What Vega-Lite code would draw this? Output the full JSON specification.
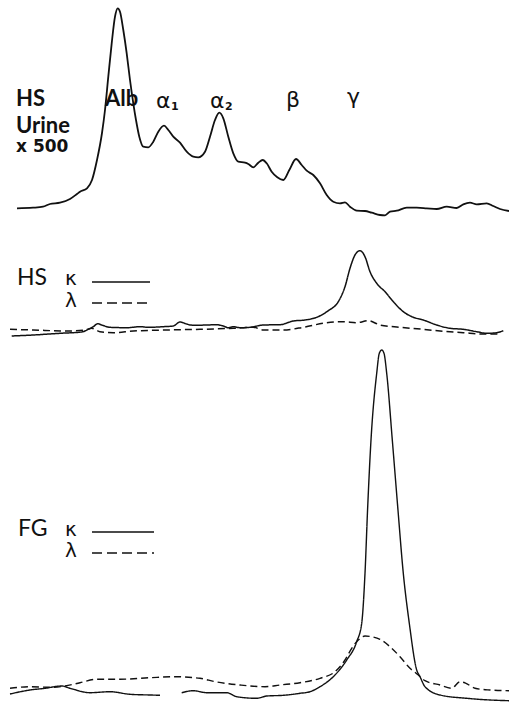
{
  "$schema": "https://vega.github.io/schema/vega-lite/v6.json",
  "padding": 0,
  "spacing": 0,
  "bounds": "flush",
  "background": "white",
  "config": {"view": {"stroke": null}, "text": {"align": "left", "baseline": "alphabetic", "font": "Lato", "fontWeight": "bold", "color": "#111"}},
  "datasets": {
    "traces": [
      {"p":"top","s":"urine","g":1,"x":17,"y":11.7},{"p":"top","s":"urine","g":1,"x":33,"y":12.3},{"p":"top","s":"urine","g":1,"x":43,"y":13.3},{"p":"top","s":"urine","g":1,"x":50,"y":16},{"p":"top","s":"urine","g":1,"x":60,"y":17.3},{"p":"top","s":"urine","g":1,"x":70,"y":21},{"p":"top","s":"urine","g":1,"x":77,"y":26},{"p":"top","s":"urine","g":1,"x":80,"y":28.3},{"p":"top","s":"urine","g":1,"x":87,"y":31.7},{"p":"top","s":"urine","g":1,"x":92,"y":40},{"p":"top","s":"urine","g":1,"x":97,"y":60},{"p":"top","s":"urine","g":1,"x":102,"y":87},{"p":"top","s":"urine","g":1,"x":105,"y":110},{"p":"top","s":"urine","g":1,"x":108.3,"y":143.3},{"p":"top","s":"urine","g":1,"x":111.7,"y":176.7},{"p":"top","s":"urine","g":1,"x":115,"y":203.3},{"p":"top","s":"urine","g":1,"x":117.7,"y":211.7},{"p":"top","s":"urine","g":1,"x":120,"y":208.3},{"p":"top","s":"urine","g":1,"x":123.3,"y":190},{"p":"top","s":"urine","g":1,"x":126.7,"y":166.7},{"p":"top","s":"urine","g":1,"x":130,"y":140},{"p":"top","s":"urine","g":1,"x":133.3,"y":116.7},{"p":"top","s":"urine","g":1,"x":136,"y":100},{"p":"top","s":"urine","g":1,"x":139.3,"y":83.3},{"p":"top","s":"urine","g":1,"x":143.3,"y":73.3},{"p":"top","s":"urine","g":1,"x":148.3,"y":72.7},{"p":"top","s":"urine","g":1,"x":153.3,"y":78.3},{"p":"top","s":"urine","g":1,"x":158.3,"y":88.3},{"p":"top","s":"urine","g":1,"x":164,"y":94.3},{"p":"top","s":"urine","g":1,"x":168.3,"y":90},{"p":"top","s":"urine","g":1,"x":173.3,"y":83.3},{"p":"top","s":"urine","g":1,"x":180,"y":77.3},{"p":"top","s":"urine","g":1,"x":186.7,"y":68.3},{"p":"top","s":"urine","g":1,"x":193.3,"y":63.3},{"p":"top","s":"urine","g":1,"x":198.3,"y":62.7},{"p":"top","s":"urine","g":1,"x":205,"y":68.3},{"p":"top","s":"urine","g":1,"x":210,"y":83.3},{"p":"top","s":"urine","g":1,"x":215,"y":100},{"p":"top","s":"urine","g":1,"x":219.3,"y":107.3},{"p":"top","s":"urine","g":1,"x":223.3,"y":101.7},{"p":"top","s":"urine","g":1,"x":228.3,"y":83.3},{"p":"top","s":"urine","g":1,"x":233.3,"y":66.7},{"p":"top","s":"urine","g":1,"x":238.3,"y":58.3},{"p":"top","s":"urine","g":1,"x":245,"y":57.3},{"p":"top","s":"urine","g":1,"x":248.3,"y":56},{"p":"top","s":"urine","g":1,"x":253.3,"y":52.7},{"p":"top","s":"urine","g":1,"x":258.3,"y":57.3},{"p":"top","s":"urine","g":1,"x":262.7,"y":60},{"p":"top","s":"urine","g":1,"x":266.7,"y":56.7},{"p":"top","s":"urine","g":1,"x":271.7,"y":48.3},{"p":"top","s":"urine","g":1,"x":277.3,"y":42.7},{"p":"top","s":"urine","g":1,"x":283.3,"y":40},{"p":"top","s":"urine","g":1,"x":289.3,"y":50},{"p":"top","s":"urine","g":1,"x":296,"y":61},{"p":"top","s":"urine","g":1,"x":301.7,"y":55},{"p":"top","s":"urine","g":1,"x":306.7,"y":49.3},{"p":"top","s":"urine","g":1,"x":313.3,"y":45},{"p":"top","s":"urine","g":1,"x":320,"y":36.7},{"p":"top","s":"urine","g":1,"x":326.7,"y":25},{"p":"top","s":"urine","g":1,"x":333.3,"y":18.3},{"p":"top","s":"urine","g":1,"x":340,"y":16.7},{"p":"top","s":"urine","g":1,"x":345,"y":17.7},{"p":"top","s":"urine","g":1,"x":350,"y":13.3},{"p":"top","s":"urine","g":1,"x":356.7,"y":9.3},{"p":"top","s":"urine","g":1,"x":365,"y":9},{"p":"top","s":"urine","g":1,"x":371.7,"y":7.3},{"p":"top","s":"urine","g":1,"x":380,"y":5},{"p":"top","s":"urine","g":1,"x":385,"y":4.7},{"p":"top","s":"urine","g":1,"x":390,"y":8.3},{"p":"top","s":"urine","g":1,"x":396.7,"y":9.3},{"p":"top","s":"urine","g":1,"x":406.7,"y":12.3},{"p":"top","s":"urine","g":1,"x":416.7,"y":12.3},{"p":"top","s":"urine","g":1,"x":426.7,"y":11.7},{"p":"top","s":"urine","g":1,"x":436.7,"y":11},{"p":"top","s":"urine","g":1,"x":446.7,"y":13.3},{"p":"top","s":"urine","g":1,"x":456.7,"y":12},{"p":"top","s":"urine","g":1,"x":463.3,"y":15.7},{"p":"top","s":"urine","g":1,"x":470,"y":17.3},{"p":"top","s":"urine","g":1,"x":476.7,"y":15.7},{"p":"top","s":"urine","g":1,"x":486.7,"y":16.7},{"p":"top","s":"urine","g":1,"x":493.3,"y":14},{"p":"top","s":"urine","g":1,"x":500,"y":11},{"p":"top","s":"urine","g":1,"x":509,"y":9},

      {"p":"mid","s":"kappa","g":1,"x":11.7,"y":4},{"p":"mid","s":"kappa","g":1,"x":33.3,"y":5},{"p":"mid","s":"kappa","g":1,"x":60,"y":6.7},{"p":"mid","s":"kappa","g":1,"x":81.7,"y":8},{"p":"mid","s":"kappa","g":1,"x":88.3,"y":10.7},{"p":"mid","s":"kappa","g":1,"x":93.3,"y":13.3},{"p":"mid","s":"kappa","g":1,"x":97.7,"y":16.3},{"p":"mid","s":"kappa","g":1,"x":101.7,"y":15},{"p":"mid","s":"kappa","g":1,"x":110,"y":12.7},{"p":"mid","s":"kappa","g":1,"x":126.7,"y":12.3},{"p":"mid","s":"kappa","g":1,"x":140,"y":13.3},{"p":"mid","s":"kappa","g":1,"x":148.3,"y":12.7},{"p":"mid","s":"kappa","g":1,"x":163.3,"y":13.3},{"p":"mid","s":"kappa","g":1,"x":173.3,"y":14},{"p":"mid","s":"kappa","g":1,"x":180,"y":18},{"p":"mid","s":"kappa","g":1,"x":186.7,"y":16},{"p":"mid","s":"kappa","g":1,"x":193.3,"y":14.7},{"p":"mid","s":"kappa","g":1,"x":206.7,"y":15},{"p":"mid","s":"kappa","g":1,"x":216.7,"y":15.3},{"p":"mid","s":"kappa","g":1,"x":223.3,"y":14},{"p":"mid","s":"kappa","g":1,"x":228.3,"y":12.3},{"p":"mid","s":"kappa","g":1,"x":233.3,"y":13.3},{"p":"mid","s":"kappa","g":1,"x":240,"y":12.3},{"p":"mid","s":"kappa","g":1,"x":250,"y":12.7},{"p":"mid","s":"kappa","g":1,"x":263.3,"y":15},{"p":"mid","s":"kappa","g":1,"x":280,"y":15.3},{"p":"mid","s":"kappa","g":1,"x":293.3,"y":19},{"p":"mid","s":"kappa","g":1,"x":305,"y":20},{"p":"mid","s":"kappa","g":1,"x":316.7,"y":22.7},{"p":"mid","s":"kappa","g":1,"x":328.3,"y":29.3},{"p":"mid","s":"kappa","g":1,"x":338.3,"y":38.3},{"p":"mid","s":"kappa","g":1,"x":345,"y":53.3},{"p":"mid","s":"kappa","g":1,"x":350,"y":71.7},{"p":"mid","s":"kappa","g":1,"x":355,"y":85},{"p":"mid","s":"kappa","g":1,"x":360,"y":89.3},{"p":"mid","s":"kappa","g":1,"x":365,"y":83.3},{"p":"mid","s":"kappa","g":1,"x":370,"y":68.3},{"p":"mid","s":"kappa","g":1,"x":376.7,"y":56.7},{"p":"mid","s":"kappa","g":1,"x":385,"y":48.3},{"p":"mid","s":"kappa","g":1,"x":393.3,"y":38.3},{"p":"mid","s":"kappa","g":1,"x":403.3,"y":28.3},{"p":"mid","s":"kappa","g":1,"x":413.3,"y":22.7},{"p":"mid","s":"kappa","g":1,"x":423.3,"y":20},{"p":"mid","s":"kappa","g":1,"x":436.7,"y":15},{"p":"mid","s":"kappa","g":1,"x":450,"y":11.7},{"p":"mid","s":"kappa","g":1,"x":463.3,"y":10.7},{"p":"mid","s":"kappa","g":1,"x":476.7,"y":8.3},{"p":"mid","s":"kappa","g":1,"x":486.7,"y":6.7},{"p":"mid","s":"kappa","g":1,"x":496.7,"y":7.3},{"p":"mid","s":"kappa","g":1,"x":503.3,"y":9.3},

      {"p":"mid","s":"lambda","g":1,"x":10,"y":10.7},{"p":"mid","s":"lambda","g":1,"x":33.3,"y":10},{"p":"mid","s":"lambda","g":1,"x":66.7,"y":9},{"p":"mid","s":"lambda","g":1,"x":85,"y":10},{"p":"mid","s":"lambda","g":1,"x":91.7,"y":11.7},{"p":"mid","s":"lambda","g":1,"x":100,"y":8.3},{"p":"mid","s":"lambda","g":1,"x":113.3,"y":7.3},{"p":"mid","s":"lambda","g":1,"x":133.3,"y":9},{"p":"mid","s":"lambda","g":1,"x":166.7,"y":10},{"p":"mid","s":"lambda","g":1,"x":200,"y":10.7},{"p":"mid","s":"lambda","g":1,"x":233.3,"y":11.7},{"p":"mid","s":"lambda","g":1,"x":253.3,"y":12.7},{"p":"mid","s":"lambda","g":1,"x":263.3,"y":10},{"p":"mid","s":"lambda","g":1,"x":283.3,"y":10},{"p":"mid","s":"lambda","g":1,"x":303.3,"y":12.7},{"p":"mid","s":"lambda","g":1,"x":323.3,"y":16.7},{"p":"mid","s":"lambda","g":1,"x":343.3,"y":18.3},{"p":"mid","s":"lambda","g":1,"x":356.7,"y":17.3},{"p":"mid","s":"lambda","g":1,"x":368.3,"y":19.3},{"p":"mid","s":"lambda","g":1,"x":380,"y":15},{"p":"mid","s":"lambda","g":1,"x":400,"y":12.7},{"p":"mid","s":"lambda","g":1,"x":423.3,"y":10.7},{"p":"mid","s":"lambda","g":1,"x":443.3,"y":8.7},{"p":"mid","s":"lambda","g":1,"x":463.3,"y":7.3},{"p":"mid","s":"lambda","g":1,"x":483.3,"y":6},{"p":"mid","s":"lambda","g":1,"x":500,"y":6},

      {"p":"bot","s":"kappa","g":1,"x":10,"y":11},{"p":"bot","s":"kappa","g":1,"x":30,"y":15},{"p":"bot","s":"kappa","g":1,"x":45,"y":16.7},{"p":"bot","s":"kappa","g":1,"x":61.7,"y":19},{"p":"bot","s":"kappa","g":1,"x":70,"y":16.7},{"p":"bot","s":"kappa","g":1,"x":90,"y":12.3},{"p":"bot","s":"kappa","g":1,"x":110,"y":13.3},{"p":"bot","s":"kappa","g":1,"x":130,"y":10.7},{"p":"bot","s":"kappa","g":1,"x":150,"y":10},{"p":"bot","s":"kappa","g":1,"x":160,"y":9.7},
      {"p":"bot","s":"kappa","g":2,"x":181.7,"y":12.3},{"p":"bot","s":"kappa","g":2,"x":193.3,"y":14.3},{"p":"bot","s":"kappa","g":2,"x":206.7,"y":12.3},{"p":"bot","s":"kappa","g":2,"x":226.7,"y":12.3},{"p":"bot","s":"kappa","g":2,"x":236.7,"y":8.3},{"p":"bot","s":"kappa","g":2,"x":256.7,"y":6.7},{"p":"bot","s":"kappa","g":2,"x":266.7,"y":9},{"p":"bot","s":"kappa","g":2,"x":283.3,"y":9.7},{"p":"bot","s":"kappa","g":2,"x":300,"y":11.7},{"p":"bot","s":"kappa","g":2,"x":310,"y":13.3},{"p":"bot","s":"kappa","g":2,"x":320,"y":18.3},{"p":"bot","s":"kappa","g":2,"x":333.3,"y":28.3},{"p":"bot","s":"kappa","g":2,"x":346.7,"y":45},{"p":"bot","s":"kappa","g":2,"x":356.7,"y":63.3},{"p":"bot","s":"kappa","g":2,"x":361.7,"y":81.7},{"p":"bot","s":"kappa","g":2,"x":365,"y":131.7},{"p":"bot","s":"kappa","g":2,"x":367.7,"y":198.3},{"p":"bot","s":"kappa","g":2,"x":371,"y":265},{"p":"bot","s":"kappa","g":2,"x":376.7,"y":331.7},{"p":"bot","s":"kappa","g":2,"x":379.3,"y":351.7},{"p":"bot","s":"kappa","g":2,"x":381.7,"y":355},{"p":"bot","s":"kappa","g":2,"x":384,"y":351.7},{"p":"bot","s":"kappa","g":2,"x":386.7,"y":331.7},{"p":"bot","s":"kappa","g":2,"x":392.3,"y":265},{"p":"bot","s":"kappa","g":2,"x":397.7,"y":198.3},{"p":"bot","s":"kappa","g":2,"x":403.3,"y":131.7},{"p":"bot","s":"kappa","g":2,"x":409.3,"y":81.7},{"p":"bot","s":"kappa","g":2,"x":416.7,"y":35},{"p":"bot","s":"kappa","g":2,"x":420,"y":28.3},{"p":"bot","s":"kappa","g":2,"x":425,"y":18.3},{"p":"bot","s":"kappa","g":2,"x":440,"y":10},{"p":"bot","s":"kappa","g":2,"x":466.7,"y":6.7},{"p":"bot","s":"kappa","g":2,"x":490,"y":5},{"p":"bot","s":"kappa","g":2,"x":509,"y":4.3},

      {"p":"bot","s":"lambda","g":1,"x":10,"y":16.7},{"p":"bot","s":"lambda","g":1,"x":30,"y":18.3},{"p":"bot","s":"lambda","g":1,"x":50,"y":17.7},{"p":"bot","s":"lambda","g":1,"x":65,"y":19},{"p":"bot","s":"lambda","g":1,"x":80,"y":22.3},{"p":"bot","s":"lambda","g":1,"x":96.7,"y":25.7},{"p":"bot","s":"lambda","g":1,"x":120,"y":25.7},{"p":"bot","s":"lambda","g":1,"x":150,"y":27.3},{"p":"bot","s":"lambda","g":1,"x":175,"y":28.3},{"p":"bot","s":"lambda","g":1,"x":200,"y":26.7},{"p":"bot","s":"lambda","g":1,"x":215,"y":23.3},{"p":"bot","s":"lambda","g":1,"x":240,"y":20},{"p":"bot","s":"lambda","g":1,"x":265,"y":18.3},{"p":"bot","s":"lambda","g":1,"x":280,"y":20},{"p":"bot","s":"lambda","g":1,"x":300,"y":22.3},{"p":"bot","s":"lambda","g":1,"x":320,"y":26.7},{"p":"bot","s":"lambda","g":1,"x":335,"y":33.3},{"p":"bot","s":"lambda","g":1,"x":345,"y":45},{"p":"bot","s":"lambda","g":1,"x":351.7,"y":56.7},{"p":"bot","s":"lambda","g":1,"x":358.3,"y":65},{"p":"bot","s":"lambda","g":1,"x":365,"y":69},{"p":"bot","s":"lambda","g":1,"x":371.7,"y":68.3},{"p":"bot","s":"lambda","g":1,"x":380,"y":65.7},{"p":"bot","s":"lambda","g":1,"x":390,"y":58.3},{"p":"bot","s":"lambda","g":1,"x":400,"y":48.3},{"p":"bot","s":"lambda","g":1,"x":410,"y":36.7},{"p":"bot","s":"lambda","g":1,"x":418.3,"y":30},{"p":"bot","s":"lambda","g":1,"x":425,"y":24.3},{"p":"bot","s":"lambda","g":1,"x":440,"y":20},{"p":"bot","s":"lambda","g":1,"x":451.7,"y":16.7},{"p":"bot","s":"lambda","g":1,"x":460,"y":23.3},{"p":"bot","s":"lambda","g":1,"x":466,"y":21.7},{"p":"bot","s":"lambda","g":1,"x":475,"y":16.7},{"p":"bot","s":"lambda","g":1,"x":490,"y":15},{"p":"bot","s":"lambda","g":1,"x":509,"y":14.3}
    ],
    "keys": [
      {"p":"mid","s":"kappa","x":92,"x2":150,"y":58},
      {"p":"mid","s":"lambda","x":92,"x2":150,"y":37},
      {"p":"bot","s":"kappa","x":92,"x2":154,"y":173},
      {"p":"bot","s":"lambda","x":92,"x2":154,"y":152}
    ],
    "labels": [
      {"p":"top","r":"big","x":16,"y":114,"t":"HS"},
      {"p":"top","r":"big","x":16,"y":87,"t":"Urine"},
      {"p":"top","r":"small","x":16,"y":68,"t":"x 500"},
      {"p":"top","r":"big","x":105,"y":114,"t":"Alb"},
      {"p":"top","r":"greek","x":156,"y":112,"t":"α"},
      {"p":"top","r":"sub","x":171,"y":110,"t":"1"},
      {"p":"top","r":"greek","x":210,"y":112,"t":"α"},
      {"p":"top","r":"sub","x":225,"y":110,"t":"2"},
      {"p":"top","r":"greek","x":286,"y":113,"t":"β"},
      {"p":"top","r":"greek","x":347,"y":116,"t":"γ"},
      {"p":"mid","r":"big","x":17,"y":55,"t":"HS"},
      {"p":"mid","r":"greek","x":65,"y":55,"t":"κ"},
      {"p":"mid","r":"greek","x":65,"y":33,"t":"λ"},
      {"p":"bot","r":"big","x":18,"y":169,"t":"FG"},
      {"p":"bot","r":"greek","x":65,"y":169,"t":"κ"},
      {"p":"bot","r":"greek","x":65,"y":148,"t":"λ"}
    ]
  },
  "vconcat": [
    {
      "width": 509, "height": 220,
      "encoding": {
        "x": {"field": "x", "type": "quantitative", "scale": {"domain": [0, 509], "nice": false, "zero": false}, "axis": null},
        "y": {"field": "y", "type": "quantitative", "scale": {"domain": [0, 220], "nice": false, "zero": false}, "axis": null}
      },
      "layer": [
        {
          "data": {"name": "traces"},
          "transform": [{"filter": "datum.p === 'top'"}],
          "mark": {"type": "line", "interpolate": "monotone", "strokeWidth": 1.8, "color": "#111"},
          "encoding": {"detail": [{"field": "s", "type": "nominal"}, {"field": "g", "type": "nominal"}]}
        },
        {
          "data": {"name": "labels"},
          "transform": [{"filter": "datum.p === 'top' && datum.r === 'big'"}],
          "mark": {"type": "text", "fontSize": 22},
          "encoding": {"text": {"field": "t", "type": "nominal"}}
        },
        {
          "data": {"name": "labels"},
          "transform": [{"filter": "datum.p === 'top' && datum.r === 'greek'"}],
          "mark": {"type": "text", "fontSize": 22, "font": "DejaVu Sans", "fontWeight": "normal"},
          "encoding": {"text": {"field": "t", "type": "nominal"}}
        },
        {
          "data": {"name": "labels"},
          "transform": [{"filter": "datum.p === 'top' && datum.r === 'small'"}],
          "mark": {"type": "text", "fontSize": 17, "font": "DejaVu Sans", "fontWeight": "bold"},
          "encoding": {"text": {"field": "t", "type": "nominal"}}
        },
        {
          "data": {"name": "labels"},
          "transform": [{"filter": "datum.p === 'top' && datum.r === 'sub'"}],
          "mark": {"type": "text", "fontSize": 11, "font": "DejaVu Sans", "fontWeight": "bold"},
          "encoding": {"text": {"field": "t", "type": "nominal"}}
        }
      ]
    },
    {
      "width": 509, "height": 120,
      "encoding": {
        "x": {"field": "x", "type": "quantitative", "scale": {"domain": [0, 509], "nice": false, "zero": false}, "axis": null},
        "y": {"field": "y", "type": "quantitative", "scale": {"domain": [0, 120], "nice": false, "zero": false}, "axis": null}
      },
      "layer": [
        {
          "data": {"name": "traces"},
          "transform": [{"filter": "datum.p === 'mid'"}],
          "mark": {"type": "line", "interpolate": "monotone", "strokeWidth": 1.5, "color": "#111"},
          "encoding": {
            "detail": [{"field": "s", "type": "nominal"}, {"field": "g", "type": "nominal"}],
            "strokeDash": {"field": "s", "type": "nominal", "scale": {"domain": ["kappa", "lambda"], "range": [[1, 0], [7, 4]]}, "legend": null}
          }
        },
        {
          "data": {"name": "keys"},
          "transform": [{"filter": "datum.p === 'mid'"}],
          "mark": {"type": "rule", "strokeWidth": 1.3, "color": "#111"},
          "encoding": {
            "x2": {"field": "x2"},
            "strokeDash": {"field": "s", "type": "nominal", "scale": {"domain": ["kappa", "lambda"], "range": [[1, 0], [10, 5]]}, "legend": null}
          }
        },
        {
          "data": {"name": "labels"},
          "transform": [{"filter": "datum.p === 'mid' && datum.r === 'big'"}],
          "mark": {"type": "text", "fontSize": 23, "fontWeight": "normal"},
          "encoding": {"text": {"field": "t", "type": "nominal"}}
        },
        {
          "data": {"name": "labels"},
          "transform": [{"filter": "datum.p === 'mid' && datum.r === 'greek'"}],
          "mark": {"type": "text", "fontSize": 20, "font": "DejaVu Sans", "fontWeight": "normal"},
          "encoding": {"text": {"field": "t", "type": "nominal"}}
        }
      ],
      "resolve": {"scale": {"strokeDash": "independent"}}
    },
    {
      "width": 509, "height": 365,
      "encoding": {
        "x": {"field": "x", "type": "quantitative", "scale": {"domain": [0, 509], "nice": false, "zero": false}, "axis": null},
        "y": {"field": "y", "type": "quantitative", "scale": {"domain": [0, 365], "nice": false, "zero": false}, "axis": null}
      },
      "layer": [
        {
          "data": {"name": "traces"},
          "transform": [{"filter": "datum.p === 'bot'"}],
          "mark": {"type": "line", "interpolate": "monotone", "strokeWidth": 1.4, "color": "#111"},
          "encoding": {
            "detail": [{"field": "s", "type": "nominal"}, {"field": "g", "type": "nominal"}],
            "strokeDash": {"field": "s", "type": "nominal", "scale": {"domain": ["kappa", "lambda"], "range": [[1, 0], [7, 4]]}, "legend": null}
          }
        },
        {
          "data": {"name": "keys"},
          "transform": [{"filter": "datum.p === 'bot'"}],
          "mark": {"type": "rule", "strokeWidth": 1.3, "color": "#111"},
          "encoding": {
            "x2": {"field": "x2"},
            "strokeDash": {"field": "s", "type": "nominal", "scale": {"domain": ["kappa", "lambda"], "range": [[1, 0], [10, 5]]}, "legend": null}
          }
        },
        {
          "data": {"name": "labels"},
          "transform": [{"filter": "datum.p === 'bot' && datum.r === 'big'"}],
          "mark": {"type": "text", "fontSize": 23, "fontWeight": "normal"},
          "encoding": {"text": {"field": "t", "type": "nominal"}}
        },
        {
          "data": {"name": "labels"},
          "transform": [{"filter": "datum.p === 'bot' && datum.r === 'greek'"}],
          "mark": {"type": "text", "fontSize": 20, "font": "DejaVu Sans", "fontWeight": "normal"},
          "encoding": {"text": {"field": "t", "type": "nominal"}}
        }
      ],
      "resolve": {"scale": {"strokeDash": "independent"}}
    }
  ]
}
